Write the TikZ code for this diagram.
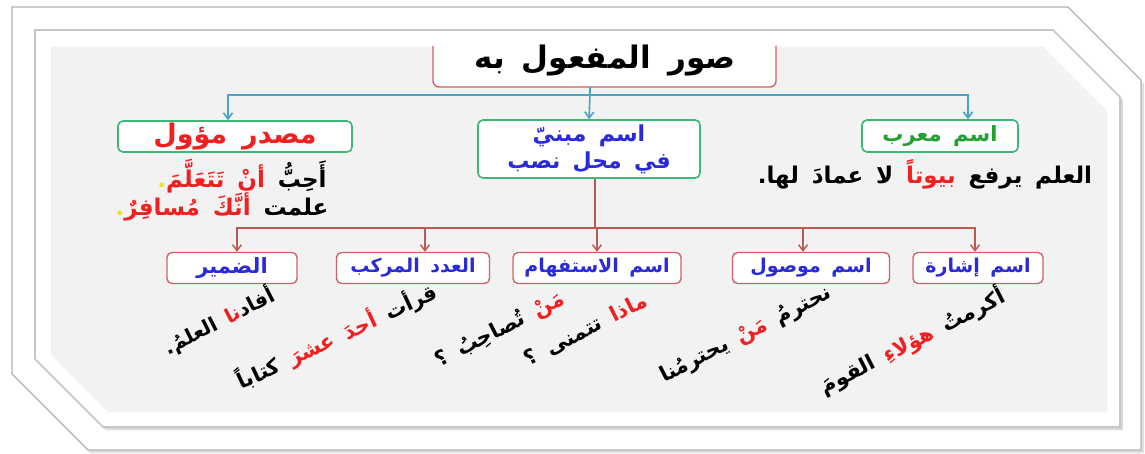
\documentclass[tikz,border=0pt]{standalone}
\usepackage{fontspec}
\TeXXeTstate=1
\newfontfamily\arabicfont[Script=Arabic,WordSpace=1.6]{DejaVu Sans}
\usetikzlibrary{arrows.meta}
\definecolor{tealc}{HTML}{4BA3C6}
\definecolor{greenb}{HTML}{3CB878}
\definecolor{redb}{HTML}{D0606A}
\definecolor{redl}{HTML}{B85A50}
\definecolor{bluet}{HTML}{2A2AD8}
\definecolor{redt}{HTML}{F02020}
\definecolor{greent}{HTML}{22A030}
\definecolor{yellowc}{HTML}{F0E020}
\definecolor{bgc}{HTML}{F2F2F2}
\newcommand\artxt[1]{\beginR#1\endR}
\begin{document}
\begin{tikzpicture}[x=1pt,y=-1pt,
  font=\arabicfont\bfseries,
  gbox/.style={draw=greenb,line width=1.6pt,rounded corners=5pt,fill=white,inner sep=0pt},
  rbox/.style={draw=redb,line width=1.4pt,rounded corners=5pt,fill=white,inner sep=0pt,
    minimum height=31pt,font=\arabicfont\bfseries\fontsize{19}{21}\selectfont,text=bluet},
  tconn/.style={draw=tealc,line width=1.6pt},
  tarr/.style={tconn,-{Straight Barb[length=6pt,width=9pt]}},
  rconn/.style={draw=redl,line width=1.4pt},
  rarr/.style={rconn,-{Straight Barb[length=6pt,width=9pt]}},
  ex/.style={inner sep=0pt,font=\arabicfont\bfseries\fontsize{23}{25}\selectfont},
  rot/.style={inner sep=0pt,font=\arabicfont\bfseries\fontsize{21}{23}\selectfont,rotate=27}]
\useasboundingbox (0,0) rectangle (1145,454);
% frames
\fill[white] (0,0) rectangle (1145,454);
\fill[gray!25] (15,10) -- (1070,10) -- (1144,84) -- (1144,453) -- (90,453) -- (15,377) -- cycle;
\draw[gray!60,line width=1.2pt,fill=white] (12,7) -- (1068,7) -- (1141,80) -- (1141,450) -- (88,450) -- (12,374) -- cycle;
\fill[gray!30] (38,33) -- (1056,33) -- (1123,100) -- (1123,430) -- (106,430) -- (38,362) -- cycle;
\draw[gray!45,line width=1.6pt,fill=white] (35,30) -- (1053,30) -- (1120,97) -- (1120,427) -- (103,427) -- (35,359) -- cycle;
\fill[bgc] (51,47) -- (1043,47) -- (1107,111) -- (1107,412) -- (108,412) -- (51,355) -- cycle;
% title
\fill[white] (433,31) rectangle (776,87);
\draw[redb,line width=1.4pt,rounded corners=6pt] (433,46) -- (433,87) -- (776,87) -- (776,46);
\node[inner sep=0pt,font=\arabicfont\bfseries\fontsize{31}{33}\selectfont] (title) at (605,61) {\artxt{صور المفعول به}};
\coordinate (tb) at (590,87);
\coordinate (tj) at (590,95);
% level 1
\node[gbox,minimum width=234pt,minimum height=31pt,text=redt,font=\arabicfont\bfseries\fontsize{27}{29}\selectfont] (masdar) at (235,136.5) {\artxt{مصدر مؤول}};
\node[gbox,minimum width=222pt,minimum height=58pt,text=bluet,align=center,font=\arabicfont\bfseries\fontsize{22}{27}\selectfont] (mabni) at (589,149) {\artxt{اسم مبنيّ}\\\artxt{في محل نصب}};
\node[gbox,minimum width=156pt,minimum height=32pt,text=greent,font=\arabicfont\bfseries\fontsize{21}{23}\selectfont] (murab) at (940,136) {\artxt{اسم معرب}};
\draw[tconn] (tb) -- (tj);
\draw[tarr] (tj) -| ([xshift=-7pt]masdar.north);
\draw[tarr] (tj) -- (mabni.north);
\draw[tarr] (tj) -| ([xshift=28pt]murab.north);
% examples level 1
\node[ex] (ex1) at (242,176) {\textcolor{yellowc}{.}{\color{redt}\artxt{أنْ تَتَعَلَّمَ}}\ \artxt{أَحِبُّ}};
\node[ex] (ex2) at (222,207) {\textcolor{yellowc}{.}{\color{redt}\artxt{أنَّكَ مُسافِرٌ}}\ \artxt{علمت}};
\node[ex] (ex3) at (925,174) {\artxt{لا عمادَ لها.}\ {\color{redt}\artxt{بيوتاً}}\ \artxt{العلم يرفع}};
% level 2
\coordinate (mb) at (595,178);
\coordinate (mj) at (595,228);
\node[rbox,minimum width=130pt] (damir) at (232,268) {\fontsize{21}{23}\selectfont\artxt{الضمير}};
\node[rbox,minimum width=153pt] (adad) at (413,268) {\artxt{العدد المركب}};
\node[rbox,minimum width=168pt] (istifham) at (597,268) {\artxt{اسم الاستفهام}};
\node[rbox,minimum width=157pt] (mawsul) at (811,268) {\artxt{اسم موصول}};
\node[rbox,minimum width=130pt] (ishara) at (978,268) {\artxt{اسم إشارة}};
\draw[rconn] (mabni.south -| mb) -- (mj);
\draw[rarr] (mj) -| ([xshift=5pt]damir.north);
\draw[rarr] (mj) -| ([xshift=12pt]adad.north);
\draw[rarr] (mj) -| (istifham.north);
\draw[rarr] (mj) -| ([xshift=-8pt]mawsul.north);
\draw[rarr] (mj) -| ([xshift=-3pt]ishara.north);
% rotated examples
\node[rot,font=\arabicfont\bfseries\fontsize{20}{22}\selectfont] (r1) at (219,321) {\artxt{العلمُ.}\ {\color{redt}\artxt{نا}}\artxt{أفاد}};
\node[rot,rotate=-2] (r2) at (337,336) {\artxt{كتاباً}\ {\color{redt}\artxt{أحدَ عشرَ}}\ \artxt{قرأت}};
\node[rot] (r3) at (500,330) {\artxt{تُصاحِبُ ؟}\ {\color{redt}\artxt{مَنْ}}};
\node[rot] (r4) at (586,330) {\artxt{تتمنى ؟}\ {\color{redt}\artxt{ماذا}}};
\node[rot] (r5) at (746,335) {\artxt{يحترمُنا}\ {\color{redt}\artxt{مَنْ}}\ \artxt{نحترمُ}};
\node[rot] (r6) at (912,341) {\artxt{القومَ}\ {\color{redt}\artxt{هؤلاءِ}}\ \artxt{أكرمتُ}};
\end{tikzpicture}
\end{document}
